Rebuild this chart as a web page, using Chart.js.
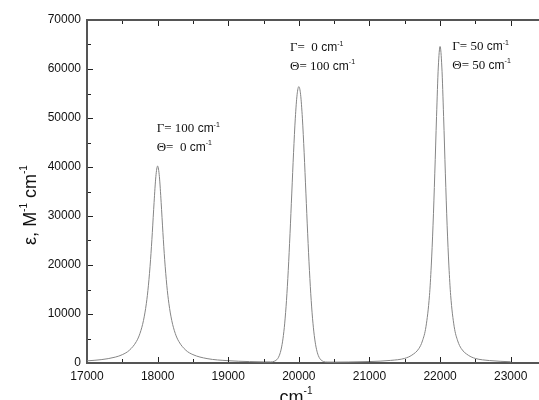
<!DOCTYPE html>
<html>
<head>
<meta charset="utf-8">
<script src="https://cdn.jsdelivr.net/npm/chart.js@4.4.1/dist/chart.umd.min.js"></script>
<style>
  html, body { margin: 0; padding: 0; overflow: hidden; background: #fff; }
  #wrap { width: 539px; height: 400px; overflow: hidden; }
</style>
</head>
<body>
<div id="wrap"><canvas id="spectrum" width="560" height="400"></canvas></div>
<script>
// wavenumbers (cm-1) and absorptivity
const wavenumber = [
  17000, 17200, 17400, 17500, 17600, 17700, 17750, 17800, 17840, 17870,
  17900, 17925, 17950, 17975, 18000, 18025, 18050, 18075, 18100, 18130,
  18160, 18200, 18250, 18300, 18400, 18500, 18700, 19000, 19300, 19500,
  19600, 19650, 19700, 19725, 19750, 19775, 19800, 19825, 19850, 19875,
  19900, 19925, 19950, 19975, 20000, 20025, 20050, 20075, 20100, 20125,
  20150, 20175, 20200, 20225, 20250, 20275, 20300, 20350, 20400, 20500,
  20700, 21000, 21300, 21500, 21600, 21700, 21750, 21800, 21850, 21875,
  21900, 21925, 21950, 21975, 22000, 22025, 22050, 22075, 22100, 22125,
  22150, 22200, 22250, 22300, 22400, 22500, 22700, 23000
];
const epsilon = [
  440, 680, 1200, 1700, 2600, 4400, 6030, 8690, 12100, 15870,
  21080, 26620, 32770, 38040, 40200, 38040, 32770, 26620, 21080, 15870,
  12100, 8690, 6030, 4400, 2600, 1710, 900, 470, 290, 225,
  220, 340, 880, 1590, 2840, 4930, 8140, 12770, 18910, 26380,
  34680, 42910, 49960, 54750, 56400, 54760, 49970, 42910, 34670, 26370,
  18890, 12740, 8110, 4890, 2800, 1550, 850, 300, 190, 180,
  205, 295, 530, 950, 1600, 2950, 4500, 7400, 13800, 19800,
  28000, 38600, 50300, 60400, 64600, 60400, 50300, 38600, 28000, 19800,
  13800, 7400, 4500, 2950, 1580, 930, 500, 250
];

const xMajor = [17000, 18000, 19000, 20000, 21000, 22000, 23000];
const yMajor = [0, 10000, 20000, 30000, 40000, 50000, 60000, 70000];

// peak labels: [gamma text, theta text, anchor wavenumber, anchor eps]
const peakLabels = [
  ['\u0393= 100', '\u0398=  0', 17987, 47080],
  ['\u0393=  0', '\u0398= 100', 19875, 63670],
  ['\u0393= 50', '\u0398= 50', 22173, 63820]
];

const frameColor = '#555';
const sansFont = '"Liberation Sans", Arial, sans-serif';
const serifFont = '"Liberation Serif", "Times New Roman", serif';

// draws a run of text pieces, each {t, font, dy}
function drawRun(ctx, x, y, parts, align) {
  let total = 0;
  parts.forEach(p => { ctx.font = p.font; total += ctx.measureText(p.t).width; });
  let cx = align === 'center' ? x - total / 2 : x;
  parts.forEach(p => {
    ctx.font = p.font;
    ctx.fillText(p.t, cx, y + (p.dy || 0));
    cx += ctx.measureText(p.t).width;
  });
}

function unitParts(size) {
  return [
    { t: ' cm', font: size + 'px ' + sansFont },
    { t: '-1', font: Math.round(size * 0.62) + 'px ' + sansFont, dy: -size * 0.45 }
  ];
}

const framePlugin = {
  id: 'frame',
  afterDraw(chart) {
    const ctx = chart.ctx;
    const area = chart.chartArea;
    const xs = chart.scales.x;
    const ys = chart.scales.y;
    ctx.save();

    // top border
    ctx.strokeStyle = frameColor;
    ctx.lineWidth = 2;
    ctx.beginPath();
    ctx.moveTo(area.left - 1, area.top);
    ctx.lineTo(area.right, area.top);
    ctx.stroke();

    // inward ticks
    ctx.strokeStyle = '#222';
    ctx.lineWidth = 1;
    ctx.beginPath();
    for (let v = 17500; v <= 23500; v += 500) {
      const px = Math.round(xs.getPixelForValue(v)) + 0.5;
      const len = v % 1000 === 0 ? 5 : 3;
      ctx.moveTo(px, area.bottom - 1);
      ctx.lineTo(px, area.bottom - 1 - len);
      ctx.moveTo(px, area.top + 1);
      ctx.lineTo(px, area.top + 1 + len);
    }
    for (let v = 5000; v < 70000; v += 5000) {
      const py = Math.round(ys.getPixelForValue(v)) + 0.5;
      const len = v % 10000 === 0 ? 5 : 3;
      ctx.moveTo(area.left + 1, py);
      ctx.lineTo(area.left + 1 + len, py);
    }
    ctx.stroke();

    // peak labels
    ctx.fillStyle = '#111';
    ctx.textBaseline = 'alphabetic';
    peakLabels.forEach(lbl => {
      const x = xs.getPixelForValue(lbl[2]);
      const y = ys.getPixelForValue(lbl[3]);
      drawRun(ctx, x, y, [{ t: lbl[0], font: '13px ' + serifFont }].concat(unitParts(12)), 'left');
      drawRun(ctx, x, y + 18.5, [{ t: lbl[1], font: '13px ' + serifFont }].concat(unitParts(12)), 'left');
    });

    // axis titles
    drawRun(ctx, 296, 403, [
      { t: 'cm', font: '18px ' + sansFont },
      { t: '-1', font: '10px ' + sansFont, dy: -9 }
    ], 'center');

    ctx.translate(36, 205);
    ctx.rotate(-Math.PI / 2);
    drawRun(ctx, 0, 0, [
      { t: '\u03b5, M', font: '18px ' + sansFont },
      { t: '-1', font: '10px ' + sansFont, dy: -9 },
      { t: ' cm', font: '18px ' + sansFont },
      { t: '-1', font: '10px ' + sansFont, dy: -9 }
    ], 'center');

    ctx.restore();
  }
};

const points = wavenumber.map((w, i) => ({ x: w, y: epsilon[i] }));

new Chart(document.getElementById('spectrum'), {
  type: 'line',
  data: {
    datasets: [{
      data: points,
      borderColor: '#858585',
      borderWidth: 1,
      pointRadius: 0,
      cubicInterpolationMode: 'monotone',
      fill: false
    }]
  },
  options: {
    responsive: false,
    animation: false,
    devicePixelRatio: 1,
    layout: { padding: { left: 0, top: 20, right: 14, bottom: 0 } },
    plugins: { legend: { display: false }, tooltip: { enabled: false } },
    scales: {
      x: {
        type: 'linear',
        min: 17000,
        max: 23500,
        afterFit: s => { s.height = 37; },
        afterBuildTicks: s => { s.ticks = xMajor.map(v => ({ value: v })); },
        ticks: {
          padding: 6,
          color: '#111',
          font: { family: sansFont, size: 12 },
          maxRotation: 0,
          callback: v => String(v)
        },
        grid: { display: false, drawTicks: false },
        border: { display: true, color: frameColor, width: 2 }
      },
      y: {
        min: 0,
        max: 70000,
        afterFit: s => { s.width = 87; },
        afterBuildTicks: s => { s.ticks = yMajor.map(v => ({ value: v })); },
        ticks: {
          padding: 6,
          color: '#111',
          font: { family: sansFont, size: 12 },
          callback: v => String(v)
        },
        grid: { display: false, drawTicks: false },
        border: { display: true, color: frameColor, width: 2 }
      }
    }
  },
  plugins: [framePlugin]
});
</script>
</body>
</html>
